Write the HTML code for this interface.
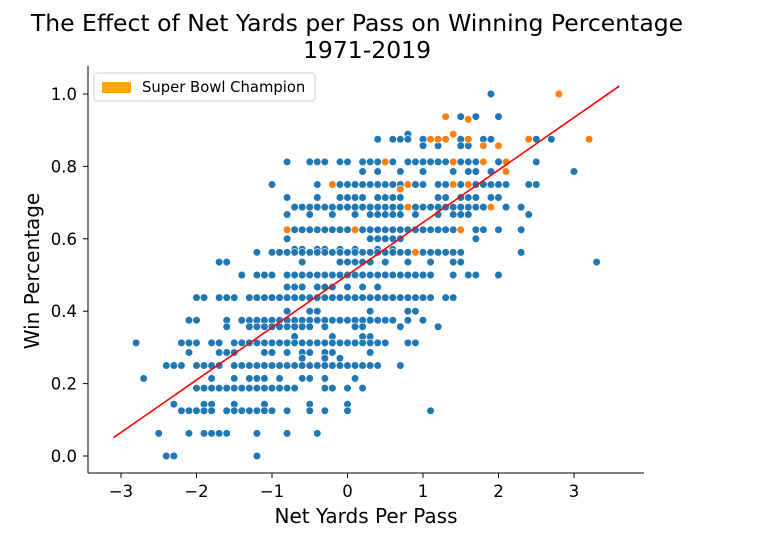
<!DOCTYPE html>
<html><head><meta charset="utf-8"><style>
html,body{margin:0;padding:0;background:#fff;}
svg{display:block;font-family:"DejaVu Sans","Liberation Sans",sans-serif;}
</style></head><body>
<svg id="chart" width="766" height="538" viewBox="0 0 766 538">
<text x="357" y="31" text-anchor="middle" font-size="23.5" fill="#000">The Effect of Net Yards per Pass on Winning Percentage</text>
<text x="367" y="58" text-anchor="middle" font-size="23.5" fill="#000">1971-2019</text>
<g id="axes"></g>
<g id="points"></g>
<g id="fitline"></g>
<g>
<rect x="94" y="73" width="221" height="28" rx="3" fill="#fff" fill-opacity="0.8" stroke="#d0d0d0"/>
<rect x="102" y="82" width="29" height="11" fill="#ffa500"/>
<text x="142" y="92" font-size="14.8" fill="#000">Super Bowl Champion</text>
</g>
<text x="366" y="523" text-anchor="middle" font-size="20" fill="#000">Net Yards Per Pass</text>
<text transform="translate(39,271) rotate(-90)" text-anchor="middle" font-size="20" fill="#000">Win Percentage</text>
</svg>
<script>
const xTicks=[-3,-2,-1,0,1,2,3];
const yTicks=[0.0,0.2,0.4,0.6,0.8,1.0];
const rowWinPct=[1.0,0.9375,0.889,0.875,0.857,0.8125,0.786,0.75,0.714,0.6875,0.667,0.625,0.6,0.571,0.5625,0.5357,0.5,0.4667,0.4375,0.4,0.375,0.357,0.33,0.3125,0.286,0.27,0.25,0.2143,0.1875,0.143,0.125,0.0625,0.0];
const rowRuns=[
[[1.9,1.9]],
[[1.5,1.5],[1.7,1.7],[2.0,2.0]],
[[0.8,0.8]],
[[0.4,0.4],[0.6,0.8],[1.0,1.0],[1.5,1.5],[1.8,1.9],[2.5,2.5],[2.7,2.7]],
[[1.0,1.0],[1.2,1.2],[1.5,1.6],[2.0,2.0]],
[[-0.8,-0.8],[-0.5,-0.3],[-0.1,0.0],[0.2,0.4],[0.6,0.6],[0.8,1.3],[1.5,1.7],[2.0,2.0],[2.5,2.5]],
[[0.2,0.2],[0.4,0.4],[0.7,0.7],[1.0,1.0],[1.4,1.4],[1.6,1.7],[1.9,1.9],[3.0,3.0]],
[[-1.0,-1.0],[-0.4,-0.4],[-0.1,0.7],[0.9,1.0],[1.2,1.3],[1.5,1.5],[1.7,2.1],[2.4,2.5]],
[[-0.8,-0.8],[-0.4,-0.4],[-0.1,0.2],[0.4,0.7],[1.2,1.3],[1.5,1.7],[1.9,2.0]],
[[-0.7,0.7],[0.9,1.8],[2.1,2.1],[2.3,2.3]],
[[-0.8,-0.8],[-0.5,-0.5],[-0.2,-0.2],[0.1,0.1],[0.3,0.7],[0.9,0.9],[1.2,1.2],[1.4,1.6],[2.4,2.4]],
[[-0.7,0.0],[0.2,1.4],[1.7,1.8],[2.0,2.0],[2.3,2.3]],
[[-0.8,-0.8],[0.3,0.7],[1.7,1.7]],
[[-0.7,-0.6],[-0.4,-0.3],[-0.1,-0.1],[0.1,0.1],[0.4,0.4],[0.6,0.6]],
[[-1.2,-1.2],[-1.0,1.5],[2.3,2.3]],
[[-1.7,-1.6],[-0.6,-0.6],[-0.1,0.3],[0.5,0.5],[0.8,0.8],[1.1,1.1],[1.4,1.5],[3.3,3.3]],
[[-1.4,-1.4],[-1.2,-1.0],[-0.8,1.1],[1.4,1.4],[1.6,1.7],[2.0,2.0]],
[[-0.8,-0.6],[-0.4,-0.2],[0.0,0.0],[0.2,0.2],[0.4,0.4]],
[[-2.0,-1.9],[-1.7,-1.5],[-1.3,1.1],[1.3,1.4]],
[[-0.8,-0.8],[-0.5,-0.4],[0.3,0.3],[0.8,0.9]],
[[-2.1,-2.0],[-1.6,-1.6],[-1.4,0.6],[0.8,0.8],[1.0,1.0]],
[[-1.6,-1.6],[-1.3,-0.5],[-0.3,-0.3],[0.1,0.2],[0.7,0.7],[1.2,1.2]],
[[-0.7,-0.7],[-0.2,-0.2],[0.2,0.3]],
[[-2.8,-2.8],[-2.2,-2.0],[-1.8,-1.7],[-1.5,0.5],[0.8,0.9]],
[[-2.1,-2.1],[-1.7,-1.5],[-1.1,-1.0],[-0.8,-0.8],[-0.6,-0.5],[-0.3,-0.2],[0.3,0.3]],
[[-0.6,-0.6],[-0.3,-0.3],[-0.1,-0.1]],
[[-2.4,-2.2],[-2.0,-1.7],[-1.5,0.4],[0.7,0.7]],
[[-2.7,-2.7],[-1.8,-1.8],[-1.5,-1.5],[-1.3,-1.2],[-1.1,-1.1],[-0.9,-0.9],[-0.6,-0.5],[-0.3,-0.3],[0.1,0.1]],
[[-2.0,-0.7],[-0.3,-0.2],[0.0,0.0],[0.2,0.2]],
[[-2.3,-2.3],[-1.9,-1.8],[-1.5,-1.5],[-1.1,-1.1],[-0.5,-0.5],[0.0,0.0]],
[[-2.2,-1.8],[-1.6,-1.0],[-0.8,-0.8],[-0.5,-0.5],[-0.3,-0.3],[0.0,0.0],[1.1,1.1]],
[[-2.5,-2.5],[-2.1,-2.1],[-1.9,-1.9],[-1.8,-1.6],[-1.2,-1.2],[-0.8,-0.8],[-0.4,-0.4]],
[[-2.4,-2.3],[-1.2,-1.2]]
];
const champX=[2.8,1.3,1.6,1.4,1.1,1.2,1.3,1.6,2.4,3.2,1.8,2.0,0.5,1.4,1.8,2.1,2.1,-0.2,0.8,1.4,1.6,0.7,0.8,1.9,-0.8,0.1,1.5,0.9];
const champY=[1.0,0.9375,0.93,0.889,0.875,0.875,0.875,0.875,0.875,0.875,0.857,0.857,0.8125,0.8125,0.8125,0.8125,0.786,0.75,0.75,0.75,0.75,0.737,0.6875,0.6875,0.625,0.625,0.625,0.5625];
const fitSlope=0.145, fitIntercept=0.50, fitRange=[-3.1,3.6];

const NS="http://www.w3.org/2000/svg";
const X0=347.5, XS=75.5, Y0=456, YS=362;
function sx(v){return X0+v*XS;}
function sy(v){return Y0-v*YS;}
function el(tag,attrs,parent){const e=document.createElementNS(NS,tag);for(const k in attrs)e.setAttribute(k,attrs[k]);parent.appendChild(e);return e;}
const axes=document.getElementById('axes');
let sp=el('line',{x1:88,y1:66,x2:88,y2:473,stroke:'#000','stroke-width':1},axes);


sp=el('line',{x1:88,y1:473,x2:644,y2:473,stroke:'#000','stroke-width':1},axes);


xTicks.forEach(t=>{
  const tk=el('line',{x1:sx(t),y1:473,x2:sx(t),y2:478,stroke:'#000'},axes);
  
  
  const tx=el('text',{x:sx(t),y:497,'text-anchor':'middle','font-size':16.5,fill:'#000'},axes);
  tx.textContent=(t<0?'\u2212'+Math.abs(t):String(t));
  
  
});
yTicks.forEach(t=>{
  const tk=el('line',{x1:83,y1:sy(t),x2:88,y2:sy(t),stroke:'#000'},axes);
  
  
  const tx=el('text',{x:77,y:sy(t)+6,'text-anchor':'end','font-size':16.5,fill:'#000'},axes);
  tx.textContent=t.toFixed(1);
  
  
});
const pts=document.getElementById('points');
rowWinPct.forEach((w,i)=>{
  rowRuns[i].forEach(r=>{
    for(let k=Math.round(r[0]*10);k<=Math.round(r[1]*10);k++){
      const c=el('circle',{cx:sx(k/10),cy:sy(w),r:3.8,fill:'#1f77b4',stroke:'#fff','stroke-width':0.6},pts);
      
      
    }
  });
});
champX.forEach((x,i)=>{
  const c=el('circle',{cx:sx(x),cy:sy(champY[i]),r:3.8,fill:'#ff7f0e',stroke:'#fff','stroke-width':0.6},pts);
  
  
});
const ln=el('line',{x1:sx(fitRange[0]),y1:sy(fitIntercept+fitSlope*fitRange[0]),x2:sx(fitRange[1]),y2:sy(fitIntercept+fitSlope*fitRange[1]),stroke:'#ff0000','stroke-width':1.6},document.getElementById('fitline'));


</script>
</body></html>
